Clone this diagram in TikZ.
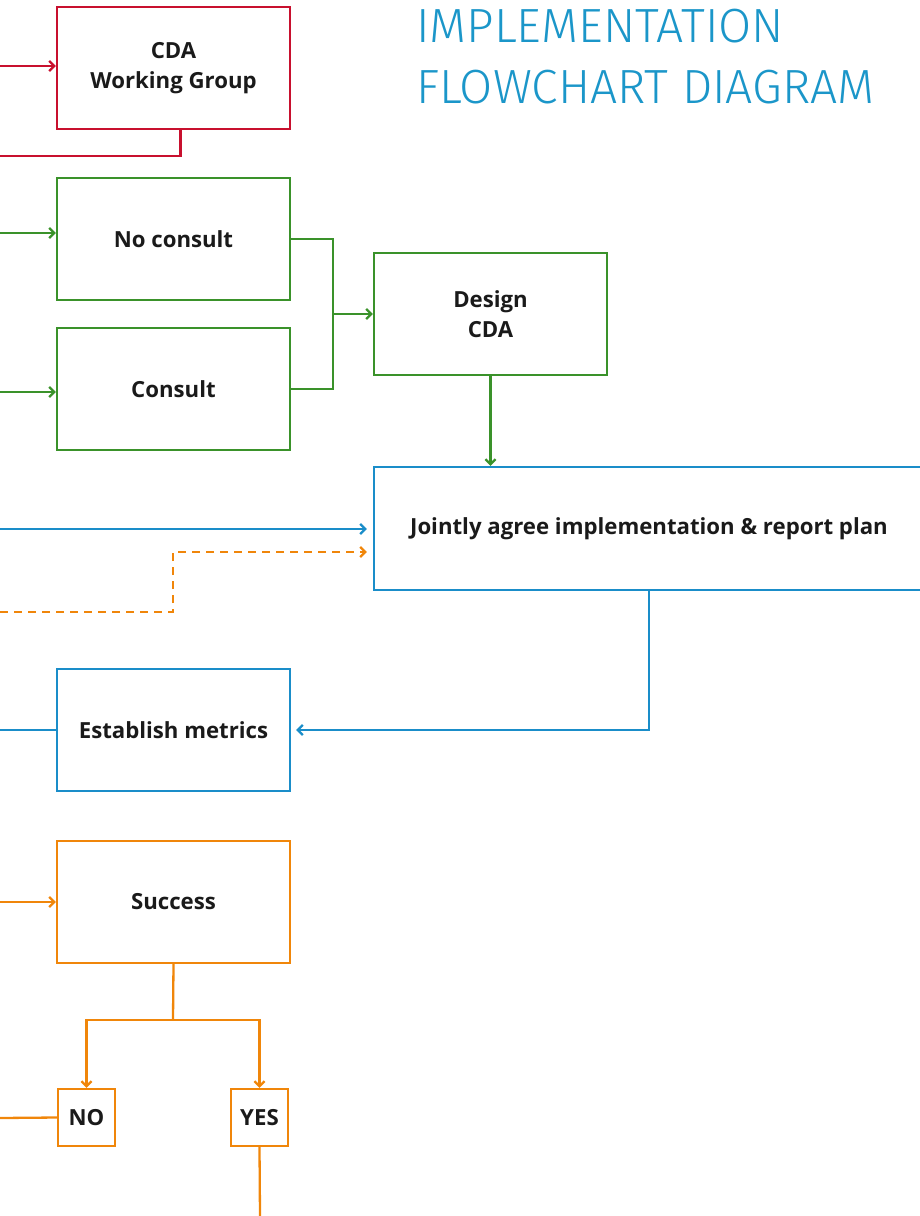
\documentclass[tikz,border=0pt]{standalone}
\usepackage{fontspec}
\setmainfont{Open Sans}
\newfontfamily\titlefont{Fira Sans Light}
\usetikzlibrary{arrows.meta}
\definecolor{cred}{HTML}{C8102E}
\definecolor{cgreen}{HTML}{3A922A}
\definecolor{cblue}{HTML}{1A8DC9}
\definecolor{corange}{HTML}{F0860A}
\definecolor{ctitle}{HTML}{1B96C9}
\definecolor{ctext}{HTML}{1A1A1A}
\begin{document}
\begin{tikzpicture}[x=1pt,y=-1pt,
  line width=2.3pt,
  >={Straight Barb[length=5pt,width=10pt]},
  box/.style={draw=#1,rectangle,inner sep=0pt,align=center,
    minimum width=233pt,minimum height=122pt,
    font=\fontsize{22.2}{30}\selectfont\bfseries,text=ctext},
  small/.style={draw=#1,rectangle,inner sep=0pt,align=center,
    minimum width=57pt,minimum height=57pt,
    font=\fontsize{22.2}{30}\selectfont\bfseries,text=ctext},
  conn/.style={draw=#1},
  ttl/.style={anchor=base west,text=ctitle,inner sep=0pt,
    font=\titlefont\fontsize{48}{60}\selectfont}]
\useasboundingbox (0,0) rectangle (919,1216);

% title
\node[ttl] (t1) at (415,42) {IMPLEMENTATION};
\node[ttl] (t2) at (415,103) {FLOWCHART DIAGRAM};

% boxes
\node[box=cred] (cda) at (173.5,68) {CDA\\Working Group};
\node[box=cgreen] (nc) at (173.5,239) {No consult};
\node[box=cgreen] (con) at (173.5,389) {Consult};
\node[box=cgreen] (des) at (490.5,314) {Design\\CDA};
\node[box=cblue,minimum width=550pt,minimum height=123pt] (joint) at (649,528.5) {Jointly agree implementation \& report plan};
\node[box=cblue] (met) at (173.5,730) {Establish metrics};
\node[box=corange] (suc) at (173.5,902) {Success};
\node[small=corange] (no) at (86.5,1117.5) {NO};
\node[small=corange] (yes) at (259.5,1117.5) {YES};

% coordinates
\coordinate (r0) at (0,66);
\coordinate (r1) at (0,156);
\coordinate (g0) at (0,233);
\coordinate (g1) at (0,392);
\coordinate (gj) at (333,314);
\coordinate (b0) at (0,529);
\coordinate (o0) at (0,612);
\coordinate (o1) at (173,552);
\coordinate (b1) at (0,730);
\coordinate (o2) at (0,902);
\coordinate (sp) at (173,1020);
\coordinate (o3) at (0,1118);
\coordinate (o4) at (260,1216);

% red
\draw[conn=cred,->] (r0) -- (r0 -| cda.west);
\draw[conn=cred] ([xshift=7pt]cda.south) |- (r1);
% green
\draw[conn=cgreen,->] (g0) -- (g0 -| nc.west);
\draw[conn=cgreen,->] (g1) -- (g1 -| con.west);
\draw[conn=cgreen] (nc.east) -| (gj);
\draw[conn=cgreen] (con.east) -| (gj);
\draw[conn=cgreen,->] (gj) -- (des.west);
\draw[conn=cgreen,->] (des.south) -- (des.south |- joint.north);
% blue
\draw[conn=cblue,->,shorten >=6pt] (b0) -- (b0 -| joint.west);
\draw[conn=cblue,->,shorten >=5pt] (joint.south) |- (met.east);
\draw[conn=cblue] (b1) -- (met.west);
% orange
\draw[conn=corange,->,dashed,dash pattern=on 8pt off 6pt,shorten >=6pt] (o0) -| (o1) -- (o1 -| joint.west);
\draw[conn=corange,->] (o2) -- (suc.west);
\draw[conn=corange] (suc.south) -- (sp);
\draw[conn=corange,->] (sp) -| (no.north);
\draw[conn=corange,->] (sp) -| (yes.north);
\draw[conn=corange] (o3) -- (no.west);
\draw[conn=corange] (yes.south) -- (o4);
\end{tikzpicture}
\end{document}
